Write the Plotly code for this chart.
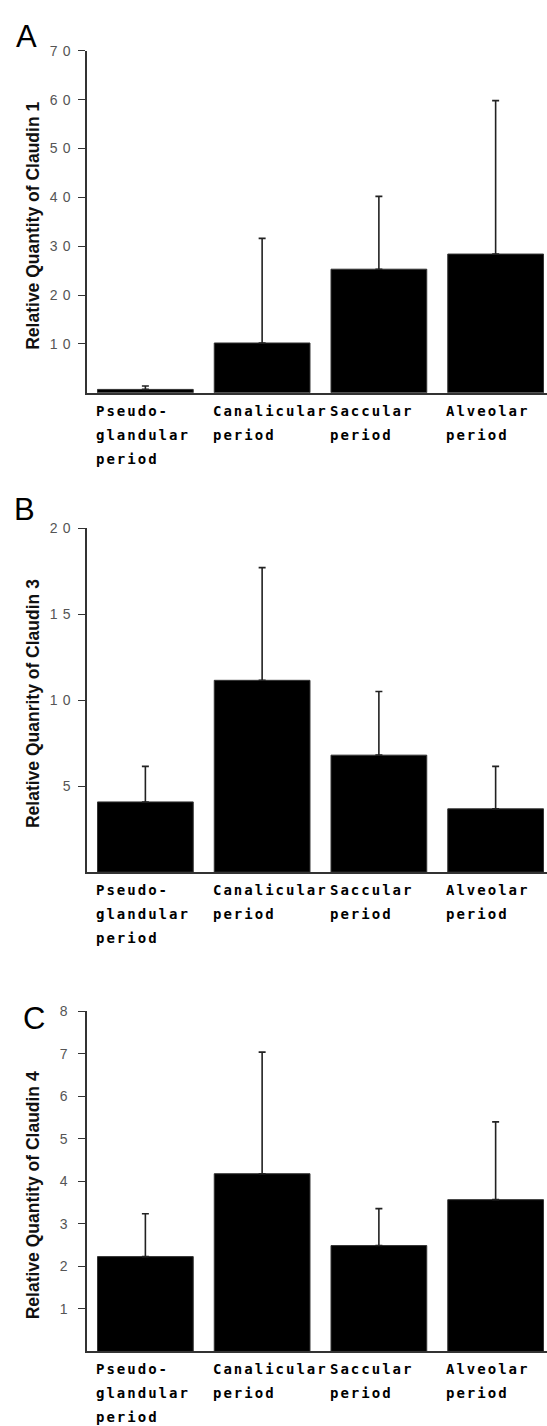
import plotly.graph_objects as go

W, H = 547, 1426

categories = ["Pseudo-glandular period", "Canalicular period", "Saccular period", "Alveolar period"]
label_lines = [["Pseudo-", "glandular", "period"], ["Canalicular", "period"], ["Saccular", "period"], ["Alveolar", "period"]]

# Panel A: Claudin 1
cldn1_mean = [0.7, 10.2, 25.3, 28.4]
cldn1_err = [0.7, 21.4, 14.9, 31.4]
cldn1_ticks = [10, 20, 30, 40, 50, 60, 70]
cldn1_ticktext = ["10", "20", "30", "40", "50", "60", "70"]

# Panel B: Claudin 3
cldn3_mean = [4.08, 11.15, 6.8, 3.68]
cldn3_err = [2.07, 6.55, 3.7, 2.47]
cldn3_ticks = [5, 10, 15, 20]
cldn3_ticktext = ["5", "10", "15", "20"]

# Panel C: Claudin 4
cldn4_mean = [2.23, 4.18, 2.49, 3.57]
cldn4_err = [1.01, 2.86, 0.87, 1.83]
cldn4_ticks = [1, 2, 3, 4, 5, 6, 7, 8]
cldn4_ticktext = ["1", "2", "3", "4", "5", "6", "7", "8"]

panels = [
    dict(letter="A", mean=cldn1_mean, err=cldn1_err, ticks=cldn1_ticks, ticktext=cldn1_ticktext,
         ymax=70, top=43, bottom=387, title="Relative Quantity of Claudin 1", title_y=219,
         letter_xy=(26, 29), spacing=5, standoff=0),
    dict(letter="B", mean=cldn3_mean, err=cldn3_err, ticks=cldn3_ticks, ticktext=cldn3_ticktext,
         ymax=20, top=523, bottom=869, title="Relative Quanrity of Claudin 3", title_y=700,
         letter_xy=(24, 504), spacing=5, standoff=0),
    dict(letter="C", mean=cldn4_mean, err=cldn4_err, ticks=cldn4_ticks, ticktext=cldn4_ticktext,
         ymax=8, top=1009, bottom=1351, title="Relative Quantity of Claudin 4", title_y=1194,
         letter_xy=(34, 1016), spacing=0, standoff=8),
]

x_left = 87
fig = go.Figure()
annotations = []
xs = list(range(len(categories)))

for k, p in enumerate(panels):
    sfx = "" if k == 0 else str(k + 1)
    fig.add_trace(go.Bar(
        x=xs, y=p["mean"], width=0.82,
        marker=dict(color="black", line=dict(color="#333", width=1)),
        error_y=dict(type="data", symmetric=False, array=p["err"], arrayminus=[0] * 4,
                     color="#222", thickness=1.6, width=3.5),
        xaxis="x" + sfx, yaxis="y" + sfx, showlegend=False,
        hovertext=categories, name=p["title"],
    ))
    dom_y = [1 - p["bottom"] / H, 1 - p["top"] / H]
    ticktext = ["<span style='letter-spacing:%dpx'>%s</span>" % (p["spacing"], t) for t in p["ticktext"]]
    fig.update_layout(**{
        "xaxis" + sfx: dict(domain=[x_left / W, 1], range=[-0.5, 3.44], showticklabels=False,
                            ticks="", showline=True, linecolor="#333", linewidth=1.5,
                            showgrid=False, zeroline=False, anchor="y" + sfx, fixedrange=True),
        "yaxis" + sfx: dict(domain=dom_y, range=[0, p["ymax"]], tickvals=p["ticks"],
                            ticktext=ticktext, ticks="outside", ticklen=7, tickwidth=1.3,
                            tickcolor="#333", showline=True, linecolor="#333", linewidth=1.5,
                            showgrid=False, zeroline=False, anchor="x" + sfx,
                            ticklabelstandoff=p["standoff"],
                            tickfont=dict(family="Liberation Sans, Arial", size=14, color="#555"),
                            fixedrange=True),
    })
    # panel letter
    annotations.append(dict(text=p["letter"], xref="paper", yref="paper",
                            x=p["letter_xy"][0] / W, y=1 - p["letter_xy"][1] / H,
                            xanchor="center", yanchor="middle", showarrow=False,
                            font=dict(family="Liberation Sans, Arial", size=31, color="black")))
    # y title
    annotations.append(dict(text="<b>" + p["title"] + "</b>", xref="paper", yref="paper",
                            x=33 / W, y=1 - p["title_y"] / H, textangle=-90,
                            xanchor="center", yanchor="middle", showarrow=False,
                            font=dict(family="Liberation Sans, Arial", size=17.5, color="#111")))
    # category labels
    for i, lines in enumerate(label_lines):
        for j, line in enumerate(lines):
            annotations.append(dict(
                text="<b><span style='letter-spacing:2px'>" + line + "</span></b>",
                xref="x" + sfx, yref="y" + sfx, x=i - 0.44, y=0,
                xanchor="left", yanchor="middle", yshift=-18 - 24 * j,
                showarrow=False, align="left",
                font=dict(family="DejaVu Sans Mono", size=14, color="black")))

fig.update_layout(width=W, height=H, margin=dict(l=0, r=0, t=0, b=0),
                  paper_bgcolor="white", plot_bgcolor="white", annotations=annotations,
                  bargap=0.18)
fig.write_html("out.html", config={"displayModeBar": False},
               post_script="document.body.style.margin='0';document.body.style.overflow='hidden';")
